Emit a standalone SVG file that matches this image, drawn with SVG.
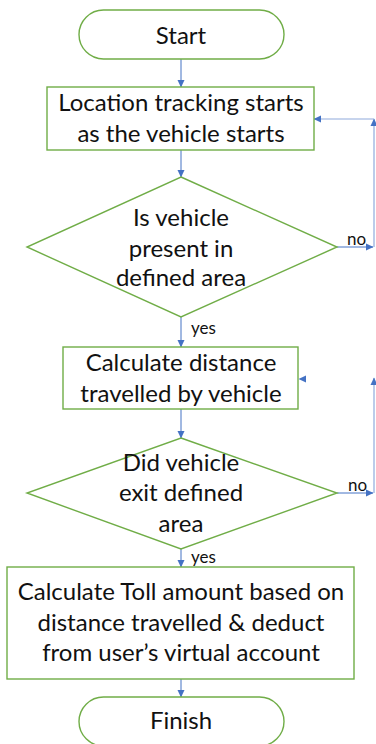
<svg xmlns="http://www.w3.org/2000/svg" width="376" height="744" viewBox="0 0 376 744">
<defs>
<marker id="ah" markerWidth="8" markerHeight="8" refX="7" refY="4" orient="auto" markerUnits="userSpaceOnUse">
<path d="M0,0.5 L7.5,4 L0,7.5 Z" fill="#4472C4"/>
</marker>
</defs>
<style>
.shape{fill:#fff;stroke:#70AD47;stroke-width:1.4}
.t{font-family:Lato,"Liberation Sans",sans-serif;font-size:24px;fill:#111;text-anchor:middle}
.lbl{font-family:Lato,"Liberation Sans",sans-serif;font-size:17px;fill:#111}
.c{fill:none;stroke:#4472C4;stroke-width:1}
.c2{fill:none;stroke:#8FAADC;stroke-width:1.2}
</style>
<rect width="376" height="744" fill="#fff"/>
<g id="connectors">
<line class="c" x1="181" y1="59" x2="181" y2="87" marker-end="url(#ah)"/>
<line class="c" x1="181" y1="150" x2="181" y2="177" marker-end="url(#ah)"/>
<line class="c" x1="181" y1="317" x2="181" y2="347" marker-end="url(#ah)"/>
<line class="c" x1="181" y1="409" x2="181" y2="438" marker-end="url(#ah)"/>
<line class="c" x1="181" y1="549" x2="181" y2="567" marker-end="url(#ah)"/>
<line class="c" x1="181" y1="679" x2="181" y2="697" marker-end="url(#ah)"/>
<line class="c" x1="337" y1="247" x2="373" y2="247" marker-end="url(#ah)"/>
<line class="c2" x1="374" y1="247" x2="374" y2="119" marker-end="url(#ah)"/>
<line class="c2" x1="374" y1="119" x2="314" y2="119" marker-end="url(#ah)"/>
<line class="c" x1="337" y1="493" x2="373" y2="493" marker-end="url(#ah)"/>
<line class="c2" x1="374" y1="493" x2="374" y2="378" marker-end="url(#ah)"/>
<path d="M306,375.5 L298.5,379 L306,382.5 Z" fill="#4472C4"/>
<text class="lbl" x="191" y="334">yes</text>
<text class="lbl" x="347" y="245">no</text>
<text class="lbl" x="348" y="491">no</text>
<text class="lbl" x="191" y="563">yes</text>
</g>
<g id="start">
<rect class="shape" x="79" y="10" width="205" height="49" rx="24.5"/>
<text class="t" x="181" y="44">Start</text>
</g>
<g id="track">
<rect class="shape" x="47" y="87" width="267" height="63"/>
<text class="t" x="181" y="111">Location tracking starts</text>
<text class="t" x="181" y="142">as the vehicle starts</text>
</g>
<g id="present">
<polygon class="shape" points="181,177 337,247 181,317 27,247"/>
<text class="t" x="181" y="226">Is vehicle</text>
<text class="t" x="181" y="257">present in</text>
<text class="t" x="181" y="286">defined area</text>
</g>
<g id="distance">
<rect class="shape" x="63" y="347" width="235" height="62"/>
<text class="t" x="181" y="371">Calculate distance</text>
<text class="t" x="181" y="402">travelled by vehicle</text>
</g>
<g id="exit">
<polygon class="shape" points="181,438 337,493 181,549 27,493"/>
<text class="t" x="181" y="471">Did vehicle</text>
<text class="t" x="181" y="501">exit defined</text>
<text class="t" x="181" y="532">area</text>
</g>
<g id="toll">
<rect class="shape" x="7" y="567" width="347" height="112"/>
<text class="t" x="181" y="600">Calculate Toll amount based on</text>
<text class="t" x="181" y="631">distance travelled &amp; deduct</text>
<text class="t" x="181" y="661">from user’s virtual account</text>
</g>
<g id="finish">
<rect class="shape" x="79" y="697" width="205" height="49" rx="24.5"/>
<text class="t" x="181" y="729">Finish</text>
</g>
</svg>
